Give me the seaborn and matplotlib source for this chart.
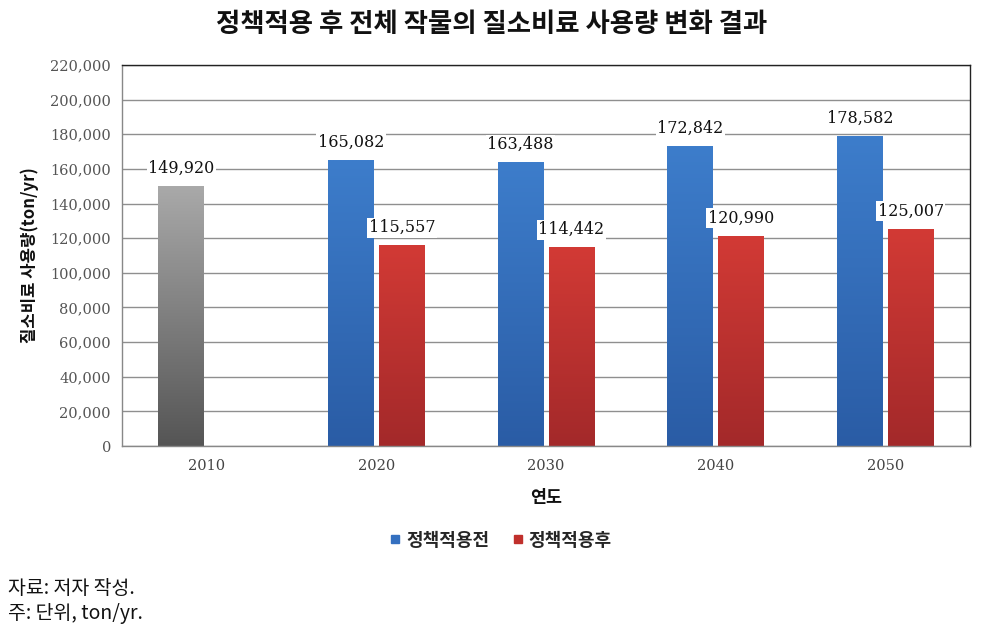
import numpy as np
import pandas as pd
import matplotlib
matplotlib.use("Agg")
import matplotlib.pyplot as plt
import seaborn as sns
from matplotlib.colors import LinearSegmentedColormap
from matplotlib.lines import Line2D

years = ["2010", "2020", "2030", "2040", "2050"]
series = ["정책적용전", "정책적용후"]
before_vals = [149920, 165082, 163488, 172842, 178582]
after_vals = [None, 115557, 114442, 120990, 125007]
yticks = list(range(0, 220001, 20000))

title = "정책적용 후 전체 작물의 질소비료 사용량 변화 결과"
ylabel = "질소비료 사용량(ton/yr)"
xlabel = "연도"
notes = ["자료: 저자 작성.", "주: 단위, ton/yr."]

rows = []
for y, b, a in zip(years, before_vals, after_vals):
    rows.append({"year": y, "series": series[0], "value": b})
    if a is not None:
        rows.append({"year": y, "series": series[1], "value": a})
df = pd.DataFrame(rows)

sns.set_theme(style="white")
plt.rcParams['font.family'] = ['Noto Sans CJK KR', 'DejaVu Sans']

BLUE = "#3470c0"
RED = "#c0302c"
grads = {
    "gray": ("#555555", "#a9a9a9"),
    "blue": ("#2a5ca5", "#3d7dcb"),
    "red": ("#a3292a", "#d23a35"),
}

fig = plt.figure(figsize=(9.9, 6.26), dpi=100)
ax = fig.add_axes([122/990, 1-446/626, (970-122)/990, (446-65)/626])

sns.barplot(data=df, x="year", y="value", hue="series", hue_order=series,
            order=years, palette=[BLUE, RED], width=0.6, gap=0.1,
            ax=ax, legend=False, errorbar=None, saturation=1)

ax.set_xlim(-0.5, 4.5)
ax.set_ylim(0, 220000)

# gradient overlays
for cont_i, cont in enumerate(ax.containers):
    for patch in cont.patches:
        h = patch.get_height()
        if not np.isfinite(h) or h <= 0:
            continue
        x0 = patch.get_x(); w = patch.get_width()
        xc = x0 + w / 2
        if cont_i == 0 and xc < 0.5:
            key = "gray"
        elif cont_i == 0:
            key = "blue"
        else:
            key = "red"
        cmap = LinearSegmentedColormap.from_list(key, list(grads[key]))
        grad = np.linspace(0, 1, 256).reshape(-1, 1)
        ax.imshow(grad, extent=[x0, x0 + w, 0, h], origin="lower",
                  aspect="auto", cmap=cmap, zorder=2.5)
        patch.set_edgecolor("none")

for cont in ax.containers:
    labels = [f"{v:,.0f}" if np.isfinite(v) else "" for v in cont.datavalues]
    ax.bar_label(cont, labels=labels, padding=7, fontsize=11.5,
                 family="DejaVu Serif", color="#111111", zorder=4,
                 bbox=dict(facecolor="white", edgecolor="none", pad=1.0))

ax.set_xlim(-0.5, 4.5)
ax.set_ylim(0, 220000)
ax.set_yticks(yticks)
ax.set_yticklabels([f"{v:,}" for v in yticks], family="DejaVu Serif",
                   fontsize=10.5, color="#555555")
ax.set_xticks(range(len(years)))
ax.set_xticklabels(years, family="DejaVu Serif", fontsize=10.5, color="#444444")
ax.set_xticks(np.arange(-0.5, 5.0, 1.0), minor=True)
ax.tick_params(axis="x", which="major", length=0, pad=9)
ax.tick_params(axis="x", which="minor", length=5, color="#777777", direction="out", width=1)
ax.tick_params(axis="y", which="major", length=4, color="#888888", direction="out", width=1, pad=4)
ax.yaxis.grid(True, color="#8f8f8f", linewidth=1)
ax.set_axisbelow(True)

for s in ["left", "bottom"]:
    ax.spines[s].set_color("#888888"); ax.spines[s].set_linewidth(1)
for s in ["top", "right"]:
    ax.spines[s].set_color("#222222"); ax.spines[s].set_linewidth(1)
    ax.spines[s].set_visible(True)

ax.set_xlabel(xlabel, fontsize=12.5, fontweight="bold", labelpad=12, color="#111111")
ax.set_ylabel(ylabel, fontsize=12, fontweight="bold", labelpad=8, color="#111111")

fig.text(0.497, 1 - 25/626, title, ha="center", va="center",
         fontsize=19, fontweight="bold", color="#111111")

handles = [Line2D([], [], marker="s", linestyle="none", markersize=6,
                  markerfacecolor=c, markeredgecolor=c) for c in [BLUE, RED]]
fig.legend(handles, series, loc="center", bbox_to_anchor=(0.505, 1 - 540/626),
           ncol=2, frameon=False, handletextpad=0.2, columnspacing=1.2,
           handlelength=0.8, prop={"family": ["Noto Sans CJK KR"], "weight": "bold", "size": 13})

fig.text(8/990, 1 - 588/626, notes[0], ha="left", va="center", fontsize=14, color="#111111")
fig.text(8/990, 1 - 614/626, notes[1], ha="left", va="center", fontsize=14, color="#111111")

fig.savefig("out.png", dpi=100)
